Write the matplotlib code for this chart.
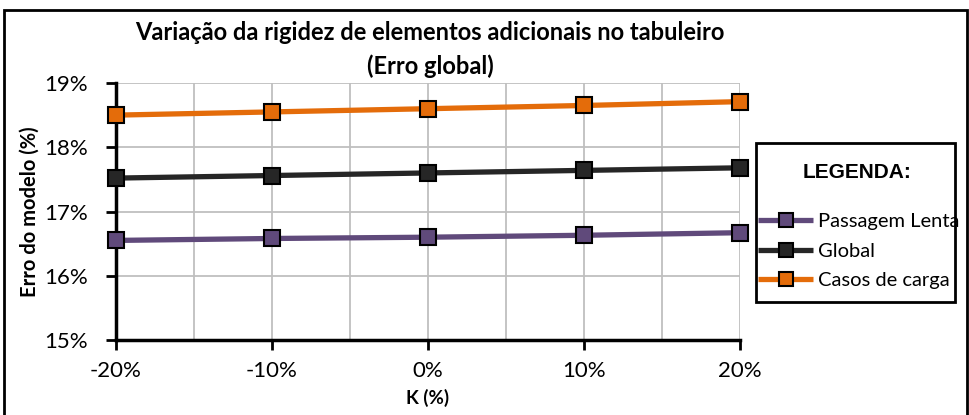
import matplotlib
matplotlib.use("Agg")
import matplotlib.pyplot as plt
from matplotlib.patches import Rectangle
from matplotlib.ticker import FuncFormatter, MultipleLocator

# K variation (%) and model error (%) for each series
k_values = [-20, -10, 0, 10, 20]
passagem_lenta = [16.55, 16.58, 16.60, 16.63, 16.67]
global_err = [17.52, 17.56, 17.60, 17.64, 17.68]
casos_carga = [18.50, 18.55, 18.60, 18.65, 18.71]

series = [
    ("Passagem Lenta", passagem_lenta, "#604a7b"),
    ("Global", global_err, "#262626"),
    ("Casos de carga", casos_carga, "#e46c0a"),
]

plt.rcParams["font.family"] = ["Lato", "DejaVu Sans"]

fig = plt.figure(figsize=(9.7, 4.15), dpi=100)
W, H = 970, 415
ax = fig.add_axes([116 / W, 1 - 340 / H, (740 - 116) / W, (340 - 83) / H])

for name, vals, col in series:
    ax.plot(k_values, vals, color=col, lw=3.8, marker="s", markersize=11,
            markerfacecolor=col, markeredgecolor="black", markeredgewidth=1.5,
            label=name, solid_capstyle="butt", zorder=3, clip_on=False)

ax.set_xlim(-20, 20)
ax.set_ylim(15, 19)
ax.xaxis.set_major_locator(MultipleLocator(10))
ax.xaxis.set_minor_locator(MultipleLocator(5))
ax.yaxis.set_major_locator(MultipleLocator(1))
ax.xaxis.set_major_formatter(FuncFormatter(lambda v, p: f"{v:.0f}%"))
ax.yaxis.set_major_formatter(FuncFormatter(lambda v, p: f"{v:.0f}%"))
ax.grid(True, which="both", axis="x", color="#bfbfbf", lw=1.3)
ax.grid(True, which="major", axis="y", color="#bfbfbf", lw=1.3)
ax.set_axisbelow(True)
ax.tick_params(axis="x", which="minor", length=0)
ax.tick_params(axis="both", which="major", length=7, width=2, direction="out",
               labelsize=16, colors="black")
ax.tick_params(axis="x", pad=8)
ax.tick_params(axis="y", pad=13)
for s in ("top", "right"):
    ax.spines[s].set_visible(False)
for s in ("left", "bottom"):
    ax.spines[s].set_linewidth(2.5)

ax.set_xlabel("K (%)", fontsize=13.5, fontweight="bold", va="center")
ax.xaxis.set_label_coords(0.5, (340 - 398) / 257)
ax.set_ylabel("Erro do modelo (%)", fontsize=14.5, fontweight="bold", va="center")
ax.yaxis.set_label_coords((30 - 116) / 624, 0.5)

fig.text(430 / W, 1 - 32 / H, "Variação da rigidez de elementos adicionais no tabuleiro",
         ha="center", va="center", fontsize=17, fontweight="bold")
fig.text(430 / W, 1 - 66 / H, "(Erro global)", ha="center", va="center",
         fontsize=17, fontweight="bold")

# outer chart frame
fig.patches.append(Rectangle((4 / W, -0.05), (967 - 4) / W, 1.05 - 10 / H,
                             transform=fig.transFigure, fill=False,
                             edgecolor="black", lw=2))

# legend panel
fig.patches.append(Rectangle((756 / W, 1 - 302 / H), (955 - 756) / W, (302 - 143) / H,
                             transform=fig.transFigure, fill=False,
                             edgecolor="black", lw=2, zorder=5))
fig.text(857 / W, 1 - 172 / H, "LEGENDA:", ha="center", va="center",
         fontsize=15, fontweight="bold", family="Liberation Sans")
handles, labels = ax.get_legend_handles_labels()
leg = fig.legend(handles, labels, loc="upper left",
                 bbox_to_anchor=(758 / W, 1 - 213 / H), frameon=False,
                 fontsize=14.5, handlelength=2.75, handletextpad=0.25,
                 labelspacing=0.62, borderaxespad=0, borderpad=0)
for h in leg.legend_handles:
    h.set_markersize(10)

fig.savefig("out.png", dpi=100)
